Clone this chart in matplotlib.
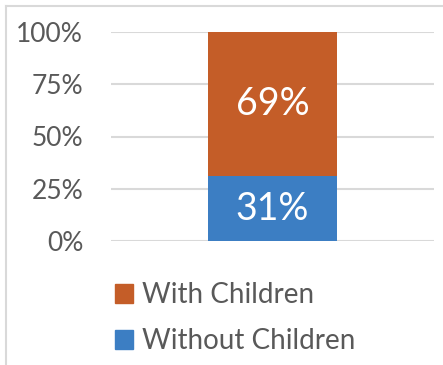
import matplotlib
matplotlib.use("Agg")
import matplotlib.pyplot as plt
from matplotlib.patches import Patch
from matplotlib.lines import Line2D

plt.rcParams['font.family'] = ['Lato', 'DejaVu Sans']

categories = [""]
series_names = ["Without Children", "With Children"]
without_children = [31]
with_children = [69]
colors = {"Without Children": "#3C7EC3", "With Children": "#C45D28"}
tick_values = [0, 25, 50, 75, 100]
tick_labels = ["0%", "25%", "50%", "75%", "100%"]

W, H = 443, 365
fig = plt.figure(figsize=(W / 100, H / 100), dpi=100)
ax = fig.add_axes([111 / W, 1 - 241 / H, (434 - 111) / W, (241 - 32) / H])

x = list(range(len(categories)))
b1 = ax.bar(x, without_children, width=0.4, color=colors["Without Children"], zorder=3)
b2 = ax.bar(x, with_children, bottom=without_children, width=0.4,
            color=colors["With Children"], zorder=3)

for xi, v in zip(x, without_children):
    ax.text(xi, v / 2, f"{v}%", ha="center", va="center", color="white",
            fontsize=27, zorder=4)
for xi, b, v in zip(x, without_children, with_children):
    ax.text(xi, b + v / 2, f"{v}%", ha="center", va="center", color="white",
            fontsize=27, zorder=4)

ax.set_xlim(-0.5, 0.5)
ax.set_ylim(0, 100)
ax.set_yticks(tick_values)
ax.set_yticklabels(tick_labels)
ax.set_xticks([])
ax.tick_params(axis="y", length=0, pad=20, labelsize=19, labelcolor="#595959")
for s in ax.spines.values():
    s.set_visible(False)
ax.yaxis.grid(True, color="#D9D9D9", linewidth=1.5, zorder=0)
ax.set_axisbelow(True)

handles = [Patch(color=colors["With Children"]), Patch(color=colors["Without Children"])]
leg = fig.legend(handles, ["With Children", "Without Children"],
                 loc="upper left", bbox_to_anchor=(115 / W, 1 - 282 / H),
                 frameon=False, fontsize=20, handlelength=0.66, handleheight=0.66,
                 handletextpad=0.3, labelspacing=0.72, borderaxespad=0, borderpad=0)
for t in leg.get_texts():
    t.set_color("#595959")

# outer chart border (light gray)
fig.add_artist(Line2D([5.5 / W, 5.5 / W], [0, 1 - 5.5 / H], transform=fig.transFigure,
                      color="#D9D9D9", linewidth=1.5))
fig.add_artist(Line2D([5.5 / W, 1], [1 - 5.5 / H, 1 - 5.5 / H], transform=fig.transFigure,
                      color="#D9D9D9", linewidth=1.5))

fig.savefig("out.png", dpi=100, facecolor="white")
